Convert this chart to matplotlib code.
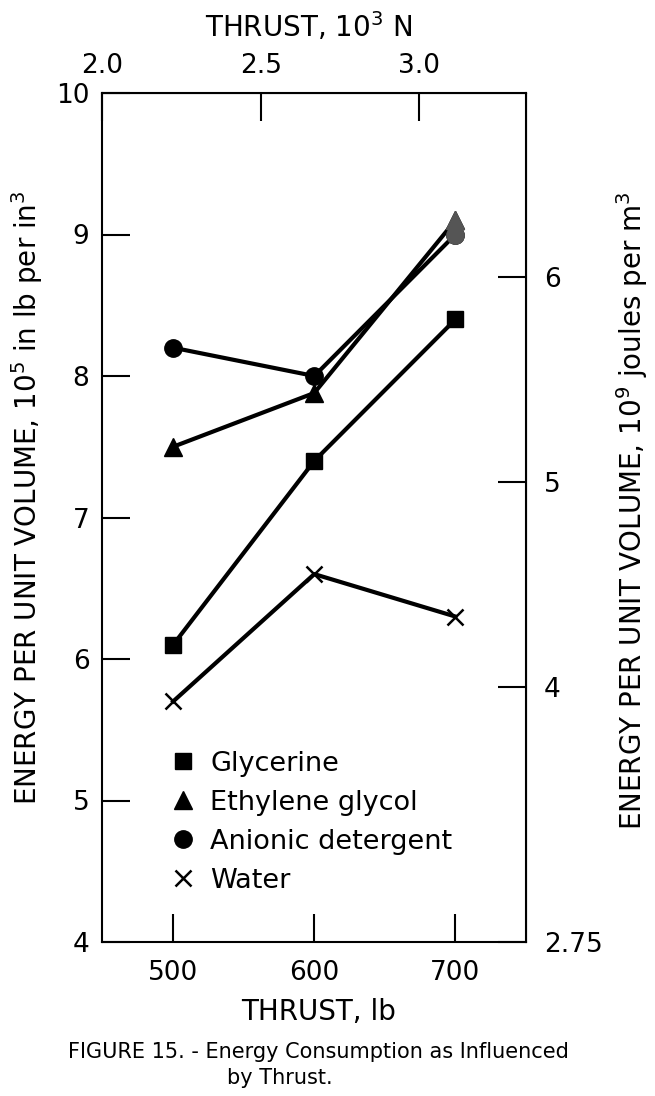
import numpy as np
import matplotlib
matplotlib.use("Agg")
import matplotlib.pyplot as plt
from matplotlib.lines import Line2D

# thrust, lb
thrust = [500, 600, 700]

# energy per unit volume, 10^5 in lb per in^3
glycerine = [6.1, 7.4, 8.4]
ethylene_glycol = [7.5, 7.88, 9.1]
anionic_detergent = [8.2, 8.0, 9.0]
water = [5.7, 6.6, 6.3]

left_ticks = [4, 5, 6, 7, 8, 9, 10]
right_ticks = [4, 5, 6]
top_ticks = [2.0, 2.5, 3.0]

LB_TO_KN = 4.44822 / 1000.0
INLB_TO_GJ = 0.689476   # 10^5 in lb/in^3 -> 10^9 J/m^3

plt.rcParams['font.family'] = 'DejaVu Sans'
FS = 19      # ticks
LFS = 20     # axis labels

fig = plt.figure(figsize=(6.55, 10.96), dpi=100)
ax = fig.add_axes([102 / 655, 1 - 942 / 1096, 424 / 655, 849 / 1096])

lw = 3.0
ax.plot(thrust, glycerine, color='black', lw=lw, marker='s', ms=11.5)
ax.plot(thrust, ethylene_glycol, color='black', lw=lw, marker='^', ms=12.5)
ax.plot(thrust, anionic_detergent, color='black', lw=lw, marker='o', ms=12.5)
ax.plot(thrust, water, color='black', lw=lw, marker='x', ms=11.5, mew=1.8)
# last two points came out grey in the print
ax.plot(thrust[-1:], ethylene_glycol[-1:], ls='none', marker='^', ms=12.5, color='#555555')
ax.plot(thrust[-1:], anionic_detergent[-1:], ls='none', marker='o', ms=12.5, color='#555555')

ax.set_xlim(2.0 / LB_TO_KN, 750)
ax.set_ylim(4, 10)

for s in ax.spines.values():
    s.set_linewidth(1.5)

ax.set_xticks(thrust)
ax.set_yticks(left_ticks)
ax.tick_params(direction='in', length=20, width=1.5, labelsize=FS)
ax.tick_params(axis='x', pad=13)
ax.tick_params(axis='y', pad=9)

top = ax.secondary_xaxis('top', functions=(lambda x: x * LB_TO_KN, lambda x: x / LB_TO_KN))
top.set_xticks(top_ticks)
top.set_xticklabels(['2.0', '2.5', '3.0'])
top.tick_params(direction='in', length=20, width=1.5, labelsize=FS, pad=10)

right = ax.secondary_yaxis('right', functions=(lambda y: y * INLB_TO_GJ, lambda y: y / INLB_TO_GJ))
right.set_yticks([4 * INLB_TO_GJ] + right_ticks)
right.set_yticklabels(['2.75', '4', '5', '6'])
right.tick_params(direction='in', length=20, width=1.5, labelsize=FS, pad=13)

fig.text(309 / 655, 1 - 27 / 1096, r'THRUST, $\mathregular{10^3}$ N', ha='center', va='center', fontsize=LFS)
fig.text(319 / 655, 1 - 1012 / 1096, 'THRUST, lb', ha='center', va='center', fontsize=LFS)
fig.text(27 / 655, 1 - 498 / 1096,
         r'ENERGY PER UNIT VOLUME, $\mathregular{10^5}$ in lb per in$\mathregular{^3}$',
         rotation=90, ha='center', va='center', fontsize=LFS)
fig.text(632 / 655, 1 - 511 / 1096,
         r'ENERGY PER UNIT VOLUME, $\mathregular{10^9}$ joules per m$\mathregular{^3}$',
         rotation=90, ha='center', va='center', fontsize=LFS)

fig.text(68 / 655, 1 - 1052 / 1096, 'FIGURE 15. - Energy Consumption as Influenced',
         ha='left', va='center', fontsize=15)
fig.text(227 / 655, 1 - 1078 / 1096, 'by Thrust.', ha='left', va='center', fontsize=15)

handles = [
    Line2D([], [], ls='none', marker='s', ms=11.5, color='black', label='Glycerine'),
    Line2D([], [], ls='none', marker='^', ms=12.5, color='black', label='Ethylene glycol'),
    Line2D([], [], ls='none', marker='o', ms=12.5, color='black', label='Anionic detergent'),
    Line2D([], [], ls='none', marker='x', ms=11.5, mew=1.8, color='black', label='Water'),
]
ax.legend(handles=handles, loc='upper left', bbox_to_anchor=(0.14, 0.238), frameon=False,
          fontsize=19.5, handlelength=0.8, handletextpad=0.6, labelspacing=0.48,
          borderaxespad=0)

fig.savefig('out.png', dpi=100)
